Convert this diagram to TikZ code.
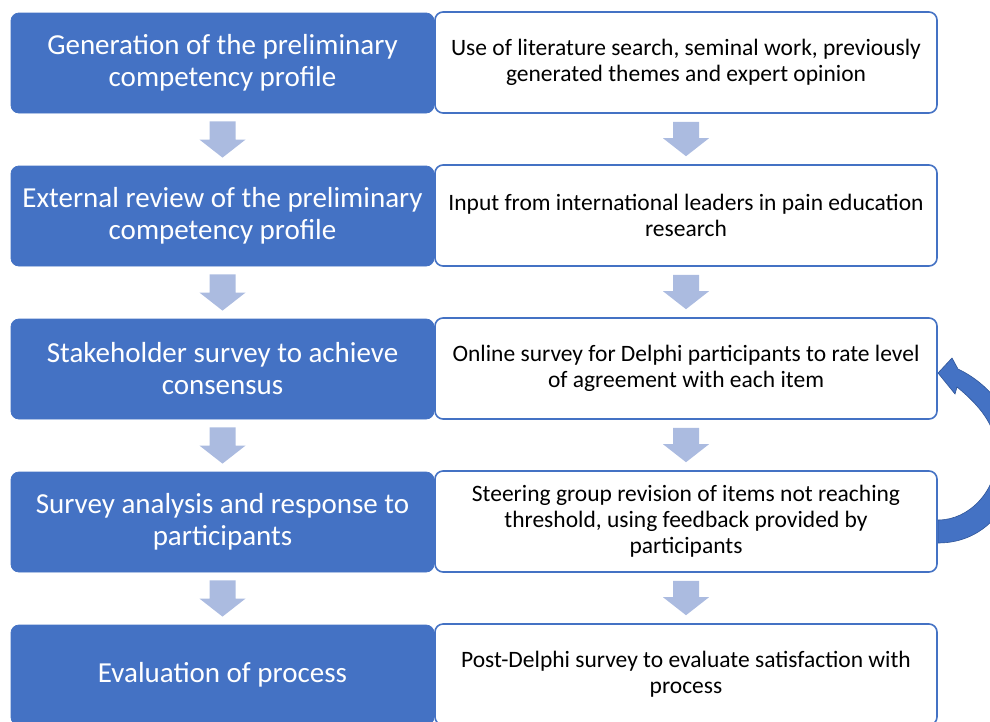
\documentclass[tikz,border=0pt]{standalone}
\usepackage{fontspec}
\setmainfont{Carlito}
\usetikzlibrary{calc}
\definecolor{dblue}{HTML}{4472C4}
\definecolor{lblue}{HTML}{ABBBE0}
\definecolor{eblue}{HTML}{2F5597}
\tikzset{
  leftbox/.style={draw=dblue, line width=0.8pt, fill=dblue, rounded corners=8pt,
    minimum width=423pt, minimum height=100pt, inner sep=0pt, text=white,
    align=center, font=\fontsize{29}{32}\selectfont},
  rightbox/.style={draw=dblue, line width=1.6pt, fill=white, rounded corners=8pt,
    minimum width=502pt, minimum height=101pt, inner sep=0pt, text=black,
    align=center, font=\fontsize{23.5}{26}\selectfont},
  flowarrow/.style={fill=lblue, draw=none},
  looparrow/.style={fill=dblue, draw=eblue, line width=0.6pt},
}
\newcommand\flowdown[2]{%
  \path let \p1=(#1.south), \p2=(#2.north) in
    [flowarrow] (\x1-13pt,\y1-8pt) -- (\x1+13pt,\y1-8pt) -- (\x1+13pt,\y2+26pt)
    -- (\x1+23pt,\y2+26pt) -- (\x1,\y2+8pt) -- (\x1-23pt,\y2+26pt)
    -- (\x1-13pt,\y2+26pt) -- cycle;}
\begin{document}
\begin{tikzpicture}[x=1pt,y=-1pt]
\useasboundingbox (0,0) rectangle (990,721);
\clip (0,0) rectangle (990,721);
% loop arrow (drawn first so box borders lie over its ends)
\path[looparrow] (938,543) .. controls (987,543) and (1017,502) .. (1017,455)
  .. controls (1017,418) and (990,384) .. (958,369)
  -- (952,358) -- (938,373) -- (955,394) -- (957,387)
  .. controls (985,410) and (997,430) .. (997,455)
  .. controls (997,490) and (970,520) .. (938,520) -- cycle;
% left column
\node[leftbox] (L1) at (222.5,63) {Generation of the preliminary\\competency profile};
\node[leftbox] (L2) at (222.5,216) {External review of the preliminary\\competency profile};
\node[leftbox] (L3) at (222.5,369) {Stakeholder survey to achieve\\consensus};
\node[leftbox] (L4) at (222.5,522) {Survey analysis and response to\\participants};
\node[leftbox] (L5) at (222.5,675) {Evaluation of process};
% right column
\node[rightbox] (R1) at (686,62.5) {Use of literature search, seminal work, previously\\generated themes and expert opinion};
\node[rightbox] (R2) at (686,215.5) {Input from international leaders in pain education\\research};
\node[rightbox] (R3) at (686,368.5) {Online survey for Delphi participants to rate level\\of agreement with each item};
\node[rightbox] (R4) at (686,521.5) {Steering group revision of items not reaching\\threshold, using feedback provided by\\participants};
\node[rightbox] (R5) at (686,674.5) {Post-Delphi survey to evaluate satisfaction with\\process};
% flow arrows
\flowdown{L1}{L2}
\flowdown{L2}{L3}
\flowdown{L3}{L4}
\flowdown{L4}{L5}
\flowdown{R1}{R2}
\flowdown{R2}{R3}
\flowdown{R3}{R4}
\flowdown{R4}{R5}
\end{tikzpicture}
\end{document}
